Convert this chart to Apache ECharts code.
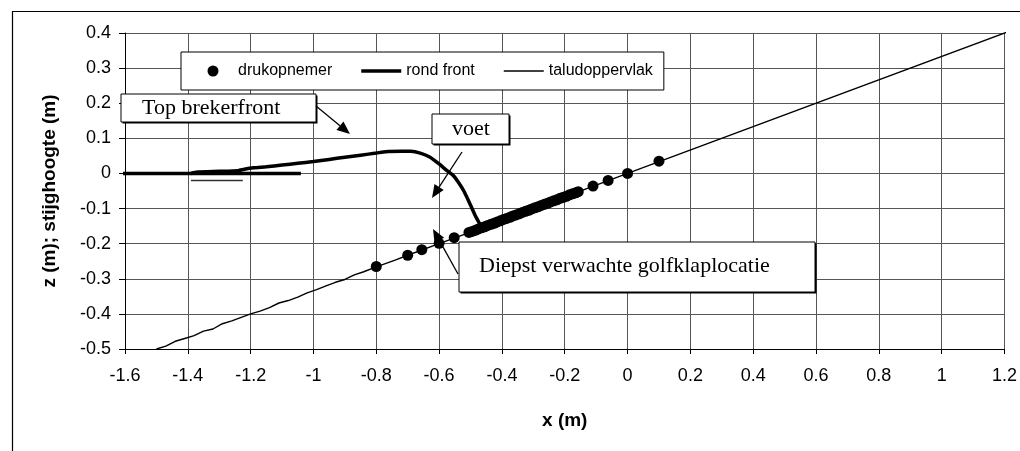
<!DOCTYPE html>
<html>
<head>
<meta charset="utf-8">
<script src="https://cdn.jsdelivr.net/npm/echarts@6/dist/echarts.min.js"></script>
<style>
  html, body { margin: 0; padding: 0; background: #fff; }
  #chart { width: 1020px; height: 451px; }
</style>
</head>
<body>
<div id="chart"></div>
<script>
// Pressure sensor positions on the slope (x, z) in metres
const drukopnemer = [
  [-0.800, -0.265], [-0.700, -0.233], [-0.655, -0.217], [-0.600, -0.199], [-0.552, -0.183],
  [-0.505, -0.168], [-0.495, -0.165], [-0.485, -0.162], [-0.475, -0.158], [-0.465, -0.155],
  [-0.455, -0.152], [-0.445, -0.148], [-0.435, -0.145], [-0.425, -0.142], [-0.415, -0.138],
  [-0.405, -0.135], [-0.395, -0.131], [-0.385, -0.128], [-0.375, -0.125], [-0.365, -0.121],
  [-0.355, -0.118], [-0.345, -0.115], [-0.335, -0.111], [-0.325, -0.108], [-0.315, -0.105],
  [-0.305, -0.101], [-0.295, -0.098], [-0.285, -0.095], [-0.275, -0.091], [-0.265, -0.088],
  [-0.255, -0.085], [-0.245, -0.081], [-0.235, -0.078], [-0.225, -0.075], [-0.215, -0.071],
  [-0.205, -0.068], [-0.195, -0.065], [-0.185, -0.061], [-0.175, -0.058], [-0.165, -0.055],
  [-0.157, -0.052], [-0.110, -0.036], [-0.062, -0.020], [0.000, 0.000], [0.100, 0.035]
];

// Rounded breaker front profile
const rondFront = [
  [-1.390, 0.000], [-1.370, 0.004], [-1.300, 0.006], [-1.240, 0.008], [-1.220, 0.012],
  [-1.190, 0.016], [-1.150, 0.019], [-1.100, 0.024], [-1.050, 0.029], [-1.000, 0.034],
  [-0.950, 0.040], [-0.900, 0.046], [-0.850, 0.052], [-0.800, 0.058], [-0.770, 0.062],
  [-0.720, 0.063], [-0.690, 0.063], [-0.660, 0.058], [-0.630, 0.047], [-0.600, 0.027],
  [-0.575, 0.008], [-0.555, -0.006], [-0.535, -0.030], [-0.520, -0.052], [-0.500, -0.090],
  [-0.485, -0.120], [-0.470, -0.145]
];

// Slope surface profile
const taludoppervlak = [
  [-1.500, -0.500], [-1.470, -0.492], [-1.440, -0.478], [-1.410, -0.470], [-1.380, -0.462],
  [-1.350, -0.449], [-1.320, -0.443], [-1.290, -0.428], [-1.260, -0.420], [-1.230, -0.410],
  [-1.200, -0.400], [-1.170, -0.392], [-1.140, -0.382], [-1.110, -0.369], [-1.080, -0.362],
  [-1.050, -0.352], [-1.020, -0.340], [-0.990, -0.331], [-0.960, -0.320], [-0.930, -0.310],
  [-0.900, -0.302], [-0.870, -0.289], [-0.840, -0.280], [-0.800, -0.266], [-0.740, -0.247],
  [-0.700, -0.233], [-0.600, -0.200], [-0.500, -0.167], [0.000, 0.000], [1.225, 0.408]
];

// Still water level ahead of the front, and the short trough segment below it
const waterlijn = [[-1.620, 0.000], [-1.040, 0.000]];
const trogLijn = [[-1.390, -0.020], [-1.225, -0.020]];

// Axis ranges and steps
const xRange = [-1.6, 1.2], xStep = 0.2;
const zRange = [-0.5, 0.4], zStep = 0.1;

const SANS = '"Liberation Sans", Arial, sans-serif';
const SERIF = '"Liberation Serif", "Times New Roman", serif';

function tickText(v) { return String(+v.toFixed(1)); }

// Legend keys: a 40x11 box holding a dot, a thick rule or a thin rule
const ICON_DOT = 'path://M0,0M40,11M14.5,5.5a5.5,5.5 0 1,0 11,0a5.5,5.5 0 1,0 -11,0Z';
const ICON_THICK = 'path://M0,0M40,11M0,3.75H40V7.25H0Z';
const ICON_THIN = 'path://M0,0M40,11M0,4.8H40V6.2H0Z';

// Callout box with a small drop shadow
function calloutBox(x, y, w, h, text, tx, ty, align) {
  return [
    { type: 'rect', z: 100, shape: { x: x + 1.5, y: y + 1.5, width: w, height: h }, style: { fill: '#000' } },
    { type: 'rect', z: 101, shape: { x: x, y: y, width: w, height: h }, style: { fill: '#fff', stroke: '#000', lineWidth: 1 } },
    { type: 'text', z: 102, x: tx, y: ty, style: { text: text, font: '22px ' + SERIF, fill: '#000', align: align || 'center', verticalAlign: 'middle' } }
  ];
}

// Straight arrow with a filled head at (x2, y2)
function arrow(x1, y1, x2, y2) {
  const dx = x2 - x1, dy = y2 - y1, len = Math.hypot(dx, dy);
  const ux = dx / len, uy = dy / len, nx = -uy, ny = ux;
  const hl = 13, hw = 5.5;
  const bx = x2 - ux * hl, by = y2 - uy * hl;
  return [
    { type: 'line', z: 103, shape: { x1: x1, y1: y1, x2: bx, y2: by }, style: { stroke: '#000', lineWidth: 1.3 } },
    { type: 'polygon', z: 103, shape: { points: [[x2, y2], [bx + nx * hw, by + ny * hw], [bx - nx * hw, by - ny * hw]] }, style: { fill: '#000' } }
  ];
}

const graphics = [
  { type: 'rect', z: 0, silent: true, shape: { x: 12.5, y: 11.5, width: 1030, height: 470 }, style: { fill: 'none', stroke: '#000', lineWidth: 1.2 } }
]
  .concat(calloutBox(121, 94, 195, 28, 'Top brekerfront', 142, 108, 'left'))
  .concat(arrow(316, 106, 350, 134))
  .concat(calloutBox(432, 114, 77, 30, 'voet', 471, 129, 'center'))
  .concat(arrow(462, 152, 432, 198))
  .concat(calloutBox(459, 242, 356, 50, 'Diepst verwachte golfklaplocatie', 479, 266, 'left'))
  .concat(arrow(458, 274, 433, 229));

const chart = echarts.init(document.getElementById('chart'), null, { renderer: 'canvas' });

chart.setOption({
  animation: false,
  backgroundColor: '#fff',
  grid: { left: 125, top: 33, right: 15, bottom: 102, containLabel: false },
  legend: {
    left: 181, top: 52,
    padding: [11, 11, 11, 12],
    itemWidth: 40, itemHeight: 11, itemGap: 29,
    backgroundColor: '#fff', borderColor: '#000', borderWidth: 1,
    textStyle: { fontFamily: SANS, fontSize: 16, color: '#000' },
    data: [
      { name: 'drukopnemer', icon: ICON_DOT },
      { name: 'rond front', icon: ICON_THICK },
      { name: 'taludoppervlak', icon: ICON_THIN }
    ]
  },
  xAxis: {
    type: 'value', min: xRange[0], max: xRange[1], interval: xStep,
    name: 'x (m)', nameLocation: 'middle', nameGap: 62,
    nameTextStyle: { fontFamily: SANS, fontSize: 19, fontWeight: 'bold', color: '#000' },
    axisLine: { show: true, onZero: false, lineStyle: { color: '#000', width: 1 } },
    axisTick: { show: true, inside: false, length: 5, lineStyle: { color: '#000' } },
    axisLabel: { margin: 18, fontFamily: SANS, fontSize: 18, color: '#000', formatter: tickText },
    splitLine: { show: true, lineStyle: { color: '#555', width: 1 } }
  },
  yAxis: {
    type: 'value', min: zRange[0], max: zRange[1], interval: zStep,
    name: 'z (m); stijghoogte (m)', nameLocation: 'middle', nameGap: 66, nameRotate: 90,
    nameTextStyle: { fontFamily: SANS, fontSize: 19, fontWeight: 'bold', color: '#000' },
    axisLine: { show: true, onZero: false, lineStyle: { color: '#000', width: 1 } },
    axisTick: { show: true, inside: false, length: 6, lineStyle: { color: '#000' } },
    axisLabel: { margin: 14, fontFamily: SANS, fontSize: 18, color: '#000', formatter: tickText },
    splitLine: { show: true, lineStyle: { color: '#555', width: 1 } }
  },
  series: [
    {
      name: 'taludoppervlak', type: 'line', data: taludoppervlak, symbol: 'none', clip: false,
      lineStyle: { color: '#000', width: 1.4 }, itemStyle: { color: '#000' }, z: 3
    },
    {
      name: 'waterlijn', type: 'line', data: waterlijn, symbol: 'none', clip: false,
      lineStyle: { color: '#000', width: 3.5 }, z: 4
    },
    {
      name: 'trog', type: 'line', data: trogLijn, symbol: 'none', clip: false,
      lineStyle: { color: '#333', width: 1.6 }, z: 4
    },
    {
      name: 'rond front', type: 'line', data: rondFront, symbol: 'none', clip: false, smooth: 0.2,
      lineStyle: { color: '#000', width: 3.5 }, itemStyle: { color: '#000' }, z: 5
    },
    {
      name: 'drukopnemer', type: 'scatter', data: drukopnemer, symbol: 'circle', symbolSize: 11,
      itemStyle: { color: '#000', opacity: 1 }, z: 6
    }
  ],
  graphic: graphics
});
</script>
</body>
</html>
